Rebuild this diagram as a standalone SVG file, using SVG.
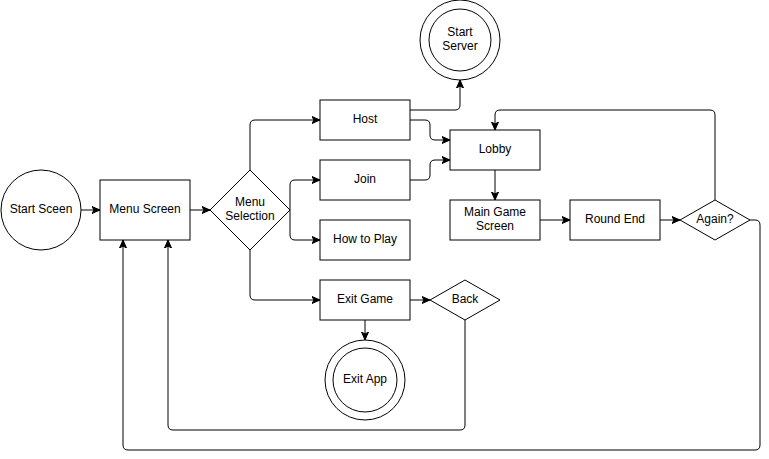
<svg xmlns="http://www.w3.org/2000/svg" width="769" height="459" viewBox="0 0 769 459">
<style>
.n{fill:#fff;stroke:#000;stroke-width:1}
.t{font-family:"Liberation Sans",Arial,sans-serif;font-size:12px;fill:#000;text-anchor:middle;dominant-baseline:central}
.e{fill:none;stroke:#000;stroke-width:1}
</style>
<defs>
<marker id="a" markerUnits="userSpaceOnUse" markerWidth="10" markerHeight="10" refX="8" refY="4" orient="auto">
<path d="M0,0.5 L8,4 L0,7.5 L2,4 Z" fill="#000" stroke="#000" stroke-width="1"/>
</marker>
</defs>
<rect width="769" height="459" fill="#fff"/>
<g id="connectors">
<path class="e" d="M81,210 H100" marker-end="url(#a)"/>
<path class="e" d="M190,210 H210" marker-end="url(#a)"/>
<path class="e" d="M250,170 V125 Q250,120 255,120 H320" marker-end="url(#a)"/>
<path class="e" d="M290,210 V185 Q290,180 295,180 H320" marker-end="url(#a)"/>
<path class="e" d="M290,210 V235 Q290,240 295,240 H320" marker-end="url(#a)"/>
<path class="e" d="M250,250 V295 Q250,300 255,300 H320" marker-end="url(#a)"/>
<path class="e" d="M410,110 H455 Q460,110 460,105 V80" marker-end="url(#a)"/>
<path class="e" d="M410,120 H425 Q430,120 430,125 V135 Q430,140 435,140 H450" marker-end="url(#a)"/>
<path class="e" d="M410,180 H425 Q430,180 430,175 V165 Q430,160 435,160 H450" marker-end="url(#a)"/>
<path class="e" d="M495,170 V200" marker-end="url(#a)"/>
<path class="e" d="M540,220 H570" marker-end="url(#a)"/>
<path class="e" d="M660,220 H680" marker-end="url(#a)"/>
<path class="e" d="M715,200 V115 Q715,110 710,110 H500 Q495,110 495,115 V130" marker-end="url(#a)"/>
<path class="e" d="M750,220 H755 Q760,220 760,225 V445 Q760,450 755,450 H128 Q123,450 123,445 V240" marker-end="url(#a)"/>
<path class="e" d="M365,320 V340" marker-end="url(#a)"/>
<path class="e" d="M410,300 H430" marker-end="url(#a)"/>
<path class="e" d="M465,320 V425 Q465,430 460,430 H173 Q168,430 168,425 V240" marker-end="url(#a)"/>
</g>
<g id="start-sceen"><circle class="n" cx="41" cy="210" r="40"/><text class="t" x="41" y="209">Start Sceen</text></g>
<g id="menu-screen"><rect class="n" x="100" y="180" width="90" height="60"/><text class="t" x="145" y="209">Menu Screen</text></g>
<g id="menu-selection"><polygon class="n" points="250,170 290,210 250,250 210,210"/><text class="t" x="250" y="202">Menu</text><text class="t" x="250" y="216">Selection</text></g>
<g id="host"><rect class="n" x="320" y="100" width="90" height="40"/><text class="t" x="365" y="119">Host</text></g>
<g id="join"><rect class="n" x="320" y="160" width="90" height="40"/><text class="t" x="365" y="179">Join</text></g>
<g id="how-to-play"><rect class="n" x="320" y="220" width="90" height="40"/><text class="t" x="365" y="239">How to Play</text></g>
<g id="exit-game"><rect class="n" x="320" y="280" width="90" height="40"/><text class="t" x="365" y="299">Exit Game</text></g>
<g id="start-server"><circle class="n" cx="460" cy="40" r="40"/><circle class="n" cx="460" cy="40" r="31"/><text class="t" x="460" y="32">Start</text><text class="t" x="460" y="46">Server</text></g>
<g id="lobby"><rect class="n" x="450" y="130" width="90" height="40"/><text class="t" x="495" y="149">Lobby</text></g>
<g id="main-game-screen"><rect class="n" x="450" y="200" width="90" height="40"/><text class="t" x="495" y="212">Main Game</text><text class="t" x="495" y="226">Screen</text></g>
<g id="round-end"><rect class="n" x="570" y="200" width="90" height="40"/><text class="t" x="615" y="219">Round End</text></g>
<g id="again"><polygon class="n" points="715,200 750,220 715,240 680,220"/><text class="t" x="715" y="219">Again?</text></g>
<g id="back"><polygon class="n" points="465,280 500,300 465,320 430,300"/><text class="t" x="465" y="299">Back</text></g>
<g id="exit-app"><circle class="n" cx="365" cy="380" r="40"/><circle class="n" cx="365" cy="380" r="32"/><text class="t" x="365" y="379">Exit App</text></g>
</svg>
